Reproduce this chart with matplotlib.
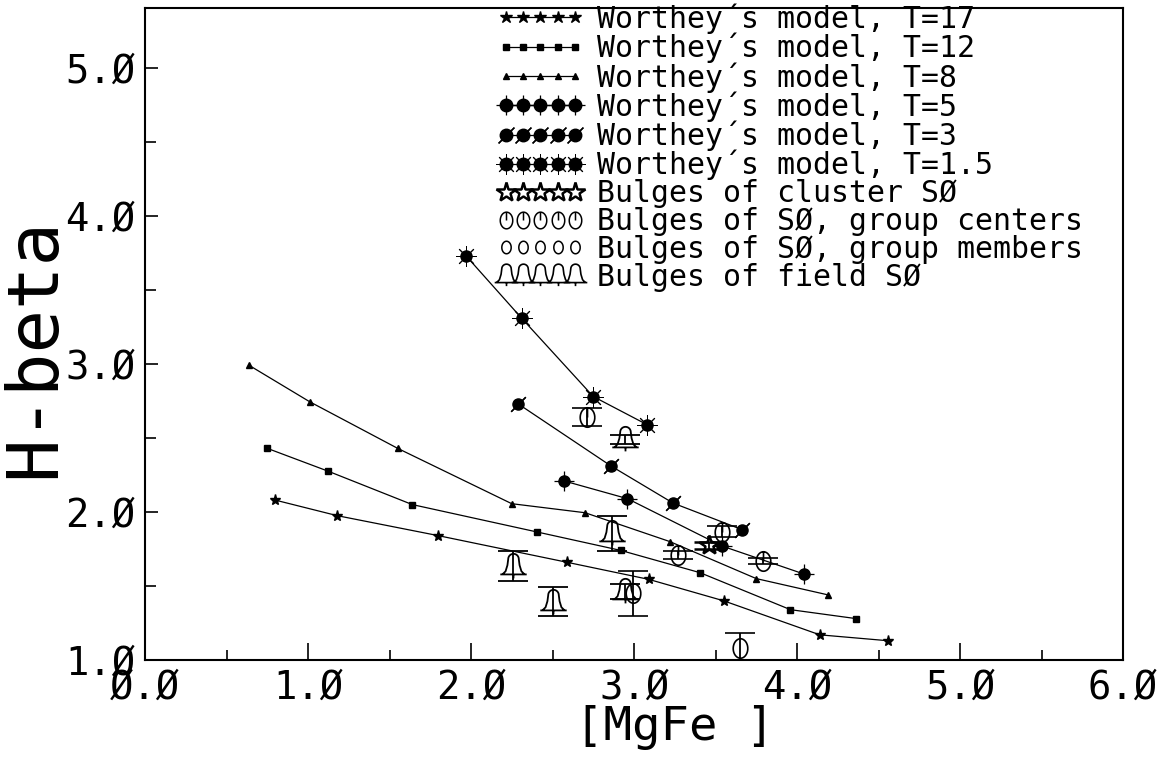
import numpy as np
import matplotlib
matplotlib.use("Agg")
import matplotlib.pyplot as plt
from matplotlib.path import Path
from matplotlib.lines import Line2D
from matplotlib.legend_handler import HandlerTuple
from matplotlib.ticker import MultipleLocator, FuncFormatter, FixedLocator

# ---------------- data ----------------
t17_x = [0.80, 1.18, 1.80, 2.59, 3.09, 3.55, 4.14, 4.56]
t17_y = [2.08, 1.975, 1.84, 1.66, 1.545, 1.40, 1.17, 1.13]

t12_x = [0.75, 1.125, 1.64, 2.405, 2.92, 3.405, 3.96, 4.36]
t12_y = [2.43, 2.275, 2.05, 1.865, 1.74, 1.59, 1.34, 1.28]

t8_x = [0.64, 1.01, 1.55, 2.25, 2.70, 3.22, 3.75, 4.19]
t8_y = [2.99, 2.745, 2.43, 2.056, 1.995, 1.80, 1.55, 1.44]

t5_x = [2.57, 2.96, 3.54, 4.045]
t5_y = [2.21, 2.09, 1.77, 1.58]

t3_x = [2.29, 2.86, 3.24, 3.665]
t3_y = [2.73, 2.31, 2.06, 1.88]

t15_x = [1.97, 2.31, 2.75, 3.08]
t15_y = [3.73, 3.31, 2.78, 2.59]

cluster_x = [3.46]
cluster_y = [1.775]
cluster_err = [0.025]

center_x = [2.71, 3.27, 3.54, 3.79]
center_y = [2.64, 1.71, 1.868, 1.668]
center_err = [0.06, 0.025, 0.04, 0.022]

member_x = [2.996, 3.65]
member_y = [1.45, 1.083]
member_err = [0.15, 0.097]

field_x = [2.947, 2.863, 2.256, 2.50, 2.945]
field_y = [2.49, 1.855, 1.635, 1.394, 1.463]
field_err = [0.03, 0.118, 0.10, 0.10, 0.05]

labels = ["Worthey´s model, T=17", "Worthey´s model, T=12", "Worthey´s model, T=8",
          "Worthey´s model, T=5", "Worthey´s model, T=3", "Worthey´s model, T=1.5",
          "Bulges of cluster SØ", "Bulges of SØ, group centers",
          "Bulges of SØ, group members", "Bulges of field SØ"]

x_ticks = [0, 1, 2, 3, 4, 5, 6]
y_ticks = [1, 2, 3, 4, 5]

# ---------------- styling ----------------
plt.rcParams['font.family'] = ['DejaVu Sans Mono', 'DejaVu Sans']

# custom markers
th = np.linspace(0, 2 * np.pi, 60)
ell = np.column_stack([0.75 * np.cos(th), np.sin(th)])
ell_path = Path(ell, [Path.MOVETO] + [Path.LINETO] * (len(ell) - 1))
center_path = Path.make_compound_path(ell_path, Path([(0, 0), (0, 1)], [Path.MOVETO, Path.LINETO]))

dome_t = np.linspace(np.pi, 0, 20)
dome = np.column_stack([0.2 * np.cos(dome_t), 0.28 + 0.2 * np.sin(dome_t)])
bell_outline = np.vstack([[(-0.42, -0.3), (-0.3, -0.18), (-0.23, 0.05), (-0.2, 0.28)],
                          dome,
                          [(0.23, 0.05), (0.3, -0.18), (0.42, -0.3)]])
bell_verts = np.vstack([bell_outline, [(-0.5, -0.3), (0.5, -0.3)], [(0, -0.3), (0, -0.45)]])
bell_codes = ([Path.MOVETO] + [Path.LINETO] * (len(bell_outline) - 1)
              + [Path.MOVETO, Path.LINETO, Path.MOVETO, Path.LINETO])
bell_path = Path(bell_verts, bell_codes)

fig = plt.figure(figsize=(11.64, 7.62), dpi=100)
ax = fig.add_axes([145 / 1164, 1 - 660 / 762, (1123 - 145) / 1164, (660 - 8) / 762])
ax.set_xlim(0, 6)
ax.set_ylim(1.0, 5.405)

lw = 0.9
# models
ax.plot(t17_x, t17_y, '-', color='k', lw=lw, marker='*', ms=8, mfc='k', mec='k')
ax.plot(t12_x, t12_y, '-', color='k', lw=lw, marker='s', ms=4.5, mfc='k', mec='k')
ax.plot(t8_x, t8_y, '-', color='k', lw=lw, marker='^', ms=4, mfc='k', mec='k')
ax.plot(t5_x, t5_y, '-', color='k', lw=lw, marker='o', ms=8, mfc='k', mec='k')
ax.plot(t5_x, t5_y, ls='none', marker='+', ms=14, mec='k', mew=0.9)
ax.plot(t3_x, t3_y, '-', color='k', lw=lw, marker='o', ms=8, mfc='k', mec='k')
ax.plot(t3_x, t3_y, ls='none', marker=(2, 2, -45), ms=15, mec='k', mew=0.9)
ax.plot(t15_x, t15_y, '-', color='k', lw=lw, marker='o', ms=8, mfc='k', mec='k')
ax.plot(t15_x, t15_y, ls='none', marker=(8, 2, 0), ms=15, mec='k', mew=0.7)

eb = dict(ecolor='k', elinewidth=1.3, capsize=11, capthick=1.3, ls='none')
ax.errorbar(cluster_x, cluster_y, yerr=cluster_err, marker='*', ms=15, mfc='none',
            mec='k', mew=1.8, **eb)
ax.errorbar(center_x, center_y, yerr=center_err, marker=center_path, ms=14, mfc='none',
            mec='k', mew=1.2, **eb)
ax.errorbar(member_x, member_y, yerr=member_err, marker=ell_path, ms=14, mfc='none',
            mec='k', mew=1.2, **eb)
ax.errorbar(field_x, field_y, yerr=field_err, marker=bell_path, ms=19, mfc='none',
            mec='k', mew=1.3, **eb)

# legend proxies
def ln(**kw):
    base = dict(color='k', lw=lw, mec='k')
    base.update(kw)
    return Line2D([], [], **base)

handles = [
    ln(marker='*', ms=9, mfc='k'),
    ln(marker='s', ms=5, mfc='k'),
    ln(marker='^', ms=4.5, mfc='k'),
    (ln(marker='o', ms=9, mfc='k'), ln(ls='none', marker='+', ms=15, mew=0.9)),
    (ln(marker='o', ms=9, mfc='k'), ln(ls='none', marker=(2, 2, -45), ms=16, mew=0.9)),
    (ln(marker='o', ms=9, mfc='k'), ln(ls='none', marker=(8, 2, 0), ms=15, mew=0.7)),
    ln(ls='none', marker='*', ms=15, mfc='none', mew=1.8),
    ln(ls='none', marker=center_path, ms=12, mfc='none', mew=1.1),
    ln(ls='none', marker=ell_path, ms=9, mfc='none', mew=1.1),
    ln(ls='none', marker=bell_path, ms=17, mfc='none', mew=1.2),
]
leg = ax.legend(handles, labels, loc='upper left', bbox_to_anchor=(0.36, 1.007),
                frameon=False, numpoints=5, handlelength=2.9, handletextpad=0.45,
                labelspacing=-0.04, borderpad=0, borderaxespad=0, fontsize=21.5,
                handler_map={tuple: HandlerTuple(ndivide=1)})

# axes styling
for s in ax.spines.values():
    s.set_linewidth(1.5)
ax.xaxis.set_major_locator(FixedLocator(x_ticks))
ax.yaxis.set_major_locator(FixedLocator(y_ticks))
ax.xaxis.set_minor_locator(MultipleLocator(0.5))
ax.yaxis.set_minor_locator(MultipleLocator(0.5))
fmt = FuncFormatter(lambda v, p: f"{v:.1f}".replace('0', 'Ø'))
ax.xaxis.set_major_formatter(fmt)
ax.yaxis.set_major_formatter(fmt)
ax.tick_params(axis='both', which='both', direction='in', top=False, right=False,
               width=1.2, labelsize=28, colors='k')
ax.tick_params(axis='x', which='major', length=12, pad=6)
ax.tick_params(axis='x', which='minor', length=7)
ax.tick_params(axis='y', which='major', length=9, pad=7)
ax.tick_params(axis='y', which='minor', length=8)

ax.set_xlabel('[MgFe ]', fontsize=34, va='top')
ax.xaxis.set_label_coords(0.542, -0.069)
ax.set_ylabel('H-beta', fontsize=52, rotation=90, rotation_mode='default',
              ha='center', va='center')
ax.yaxis.set_label_coords(-0.1125, 0.48)

fig.savefig('out.png', dpi=100)
